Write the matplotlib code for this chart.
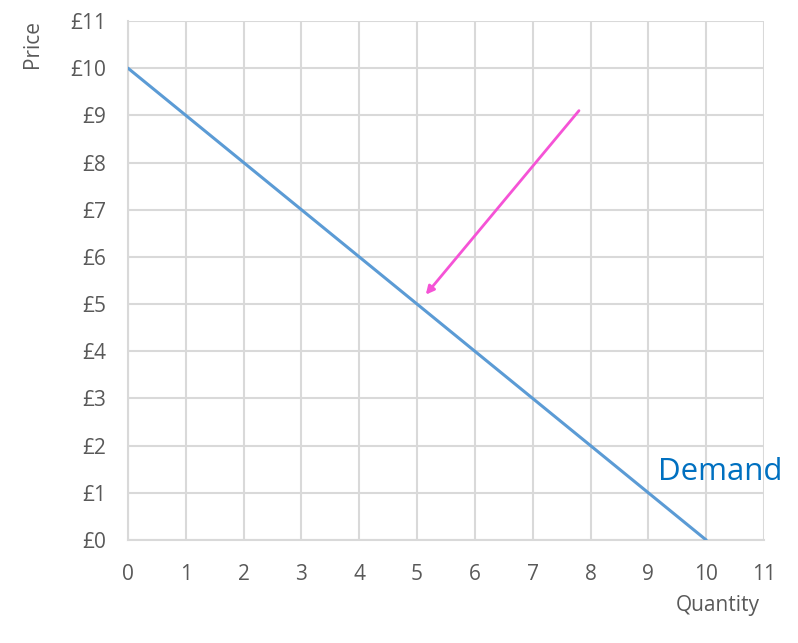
import matplotlib
matplotlib.use("Agg")
from matplotlib import pyplot as plt
import numpy as np

plt.rcParams['font.family'] = ['Open Sans', 'DejaVu Sans']

# demand curve points
quantity = [0, 10]
price = [10, 0]

x_ticks = list(range(0, 12))
y_ticks = list(range(0, 12))
y_tick_labels = ['£{}'.format(v) for v in y_ticks]

# arrow from / to (data coords)
arrow_start = (7.8, 9.1)
arrow_end = (5.15, 5.2)

grid_col = '#d9d9d9'
text_col = '#595959'

fig = plt.figure(figsize=(7.98, 6.43), dpi=100)
ax = fig.add_axes([128 / 798, 1 - 540 / 643, (764 - 128) / 798, (540 - 21) / 643])

ax.plot(quantity, price, color='#5b9bd5', linewidth=2.2, solid_capstyle='round', zorder=3)

ax.annotate('', xy=arrow_end, xytext=arrow_start,
            arrowprops=dict(arrowstyle='-|>', color='#f553d6', lw=2,
                            mutation_scale=12, shrinkA=0, shrinkB=0),
            zorder=4)

ax.text(9.17, 1.45, 'Demand', color='#0070c0', fontsize=22.5, va='center', ha='left',
        zorder=5, clip_on=False)

ax.set_xlim(0, 11)
ax.set_ylim(0, 11)
ax.set_xticks(x_ticks)
ax.set_yticks(y_ticks)
ax.set_yticklabels(y_tick_labels)
ax.tick_params(length=0, labelsize=15, colors=text_col)
ax.tick_params(axis='y', pad=16)
ax.tick_params(axis='x', pad=17)

ax.grid(True, color=grid_col, linewidth=1.5)
ax.set_axisbelow(True)
for side in ['top', 'right']:
    ax.spines[side].set_visible(False)
for side in ['left', 'bottom']:
    ax.spines[side].set_color(grid_col)
    ax.spines[side].set_linewidth(1.5)

fig.text(33 / 798, 1 - 44 / 643, 'Price', rotation=90, ha='center', va='center',
         fontsize=15, color=text_col)
fig.text(718 / 798, 1 - 605 / 643, 'Quantity', ha='center', va='center',
         fontsize=15, color=text_col)

plt.savefig('out.png', dpi=100)
